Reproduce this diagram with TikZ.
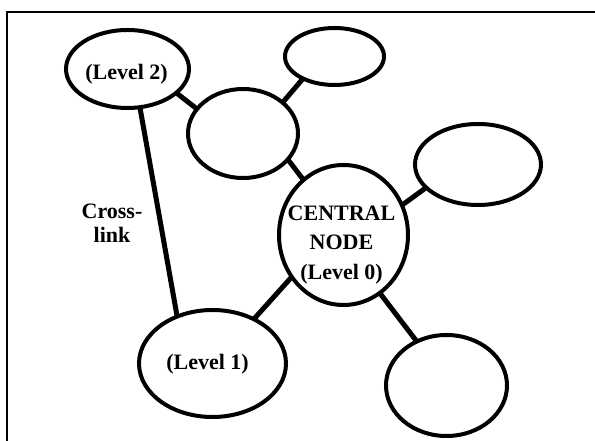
\documentclass[tikz,border=0pt]{standalone}
\usepackage{fontspec}
\setmainfont{Liberation Serif}
\usetikzlibrary{shapes.geometric}
\begin{document}
\begin{tikzpicture}[x=1pt,y=1pt,
  bubble/.style={ellipse,draw,line width=4pt,inner sep=0pt,outer sep=0pt},
  linkline/.style={line width=5pt},
  lbl/.style={font=\fontsize{22}{29.5}\selectfont\bfseries,inner sep=0pt,align=center},
  frameline/.style={line width=2.2pt,line join=miter}
]
\useasboundingbox (0,0) rectangle (595,441);
\draw[frameline] (7,0) -- (7,429) -- (595,429);

\node[bubble,minimum width=123pt,minimum height=78pt]  (l2) at (127.5,372) {};
\node[bubble,minimum width=110pt,minimum height=89pt]  (m)  at (243,307.5) {};
\node[bubble,minimum width=99pt,minimum height=57pt]   (t)  at (334.5,384.5) {};
\node[bubble,minimum width=126pt,minimum height=81pt]  (r)  at (478,276.5) {};
\node[bubble,minimum width=129pt,minimum height=140pt] (c)  at (343.5,206) {};
\node[bubble,minimum width=147pt,minimum height=107pt] (l1) at (212.5,77.5) {};
\node[bubble,minimum width=121pt,minimum height=101pt] (b)  at (446.5,55.5) {};

\node[lbl,anchor=base] (l2text) at (126.5,361) {(Level 2)};
\node[lbl,anchor=base] (l1text) at (207.5,71) {(Level 1)};
\node[lbl,anchor=north] (ctext) at (341.5,235.6) {CENTRAL\\NODE\\(Level 0)};
\node[lbl,anchor=north,font=\fontsize{22}{24}\selectfont\bfseries] (xtext) at (112,237) {Cross-\\link};

\draw[linkline] (l2.-26) -- (m.152);
\draw[linkline] (m.38) -- (t.215);
\draw[linkline] (m.-30) -- (c.126);
\draw[linkline] (c.27) -- (r.204);
\draw[linkline] (c.219) -- (l1.47);
\draw[linkline] (c.-58) -- (b.124);
\draw[linkline] (l2.-72) -- (l1.127);
\end{tikzpicture}
\end{document}
